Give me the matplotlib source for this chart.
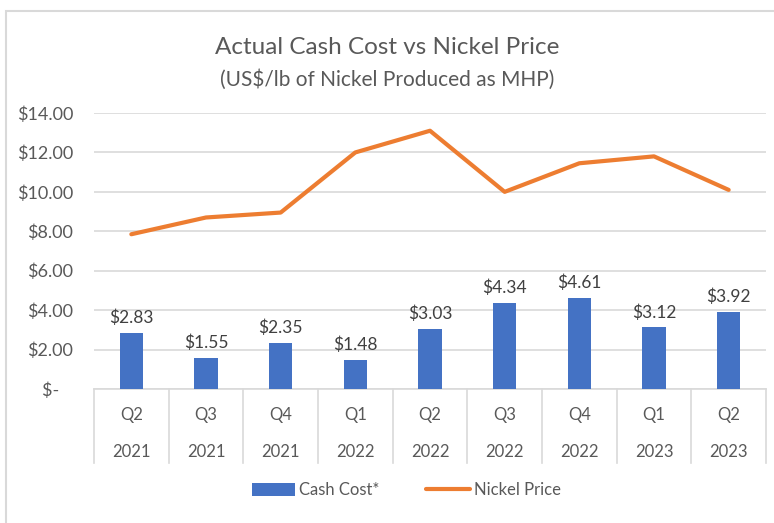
import matplotlib.pyplot as plt
from matplotlib.patches import Rectangle
import matplotlib.transforms as mtransforms

plt.rcParams['font.family'] = ['Lato', 'DejaVu Sans']

quarters = ["Q2", "Q3", "Q4", "Q1", "Q2", "Q3", "Q4", "Q1", "Q2"]
years = ["2021", "2021", "2021", "2022", "2022", "2022", "2022", "2023", "2023"]
cash_cost = [2.83, 1.55, 2.35, 1.48, 3.03, 4.34, 4.61, 3.12, 3.92]
nickel_price = [7.85, 8.7, 8.95, 12.0, 13.1, 10.0, 11.45, 11.8, 10.1]
y_ticks = [0, 2, 4, 6, 8, 10, 12, 14]

blue = "#4472C4"
orange = "#ED7D31"
grey_txt = "#595959"
grid_c = "#D9D9D9"

fig = plt.figure(figsize=(7.74, 5.23), dpi=100)
# chart border
fig.patches.append(Rectangle((0.008, -0.02), 1.0, 0.999, transform=fig.transFigure,
                             fill=False, edgecolor=grid_c, lw=1.5))

ax = fig.add_axes([94/774, 1-389/523, 672/774, 276/523])
x = list(range(len(quarters)))

bars = ax.bar(x, cash_cost, width=0.31, color=blue, zorder=3, label="Cash Cost*")
line, = ax.plot(x, nickel_price, color=orange, lw=3, zorder=4, label="Nickel Price",
                solid_capstyle='round')

for xi, v in zip(x, cash_cost):
    ax.annotate("$%.2f" % v, (xi, v), xytext=(0, 5), textcoords="offset points",
                ha="center", va="bottom", fontsize=12.5, color="#404040")

ax.set_xlim(-0.5, len(x) - 0.5)
ax.set_ylim(0, 14)
ax.set_yticks(y_ticks)
ax.set_yticklabels(["$-   "] + ["$%.2f" % t for t in y_ticks[1:]])
ax.tick_params(axis='y', length=0, pad=15, labelsize=13, labelcolor=grey_txt)
ax.set_xticks([])
ax.grid(axis='y', color=grid_c, lw=1.2, zorder=0)
for s in ["top", "right", "left"]:
    ax.spines[s].set_visible(False)
ax.spines["bottom"].set_color(grid_c)
ax.spines["bottom"].set_linewidth(1.2)

# two-level category axis
trans = mtransforms.blended_transform_factory(ax.transData, ax.transAxes)
h = 276.0
for b in range(len(x) + 1):
    ax.plot([b - 0.5, b - 0.5], [0, -74/h], transform=trans, color=grid_c,
            lw=1.2, clip_on=False)
for xi in x:
    ax.text(xi, -26/h, quarters[xi], transform=trans, ha="center", va="center",
            fontsize=12, color=grey_txt)
    ax.text(xi, -63/h, years[xi], transform=trans, ha="center", va="center",
            fontsize=12, color=grey_txt)

fig.text(0.5, 1-47/523, "Actual Cash Cost vs Nickel Price", ha="center", va="center",
         fontsize=17.5, color=grey_txt)
fig.text(0.5, 1-80/523, "(US$/lb of Nickel Produced as MHP)", ha="center", va="center",
         fontsize=15, color=grey_txt)

fig.legend(handles=[bars, line], loc="center", bbox_to_anchor=(0.525, 1-490/523),
           ncol=2, frameon=False, fontsize=12, labelcolor=grey_txt,
           handlelength=2.6, handleheight=0.8, handletextpad=0.25, columnspacing=2.8)

fig.savefig("out.png", dpi=100)
